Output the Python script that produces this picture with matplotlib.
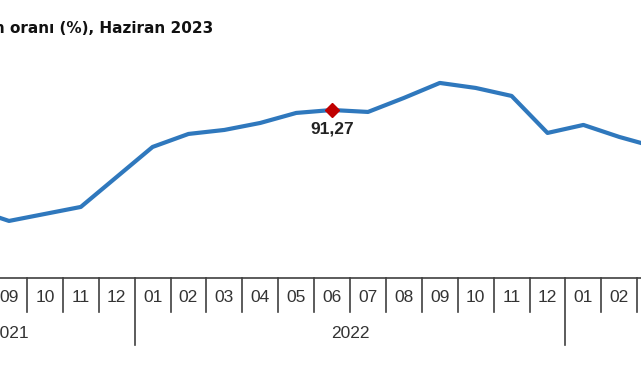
import matplotlib.pyplot as plt
import matplotlib.transforms as mtransforms

# monthly values, June 2021 .. June 2023 (annual change, %)
months = ["06", "07", "08", "09", "10", "11", "12",
          "01", "02", "03", "04", "05", "06", "07", "08", "09", "10", "11", "12",
          "01", "02", "03", "04", "05", "06"]
values = [48.8, 46.3, 41.8, 35.8, 39.3, 42.8, 57.8,
          72.8, 79.3, 81.3, 84.8, 89.8, 91.27, 90.3, 97.3, 104.8, 102.3, 98.3, 79.8,
          83.8, 77.8, 72.8, 70.0, 67.5, 65.0]
years = ["2021", "2022", "2023"]
year_start = [0, 7, 19]
year_len = [7, 12, 6]
highlight = 12
highlight_label = "91,27"
title = "Hizmet üretici fiyat endeksi yıllık değişim oranı (%), Haziran 2023"

W, H = 641, 380
fig = plt.figure(figsize=(W / 100, H / 100), dpi=100)
axis_y = 278
ax = fig.add_axes([0, (H - axis_y) / H, 1, axis_y / H])

px = 35.9  # pixels per month
x0 = 3 - 9 / px
ax.set_xlim(x0, x0 + W / px)
ax.set_ylim(91.27 - (axis_y - 110) * 0.5, 91.27 + 110 * 0.5)

xs = list(range(len(values)))
ax.plot(xs, values, color="#2F78BD", lw=3, solid_capstyle="round", zorder=2)
ax.plot([highlight], [values[highlight]], marker="D", ms=7.5, color="#C00000",
        mec="#C00000", zorder=3)
ax.annotate(highlight_label, (highlight, values[highlight]), xytext=(0, -14),
            textcoords="offset points", ha="center", va="center",
            fontsize=12.5, fontweight="bold", color="#222222",
            family="Liberation Sans")

for s in ["top", "left", "right"]:
    ax.spines[s].set_visible(False)
ax.spines["bottom"].set_color("#404040")
ax.spines["bottom"].set_linewidth(1.2)
ax.set_xticks([])
ax.set_yticks([])

tr = mtransforms.blended_transform_factory(ax.transData, ax.transAxes)
sep_short = -34 / axis_y
sep_long = -67 / axis_y
year_edges = set(year_start)
for i in range(len(months) + 1):
    y_end = sep_long if i in year_edges or i == len(months) else sep_short
    ax.plot([i - 0.5, i - 0.5], [0, y_end], color="#404040", lw=1.2,
            transform=tr, clip_on=False)
for i, m in enumerate(months):
    ax.text(i, -20 / axis_y, m, transform=tr, ha="center", va="center",
            fontsize=12.5, color="#333333", family="Liberation Sans")
for y, s, n in zip(years, year_start, year_len):
    ax.text(s + (n - 1) / 2, -55 / axis_y, y, transform=tr, ha="center",
            va="center", fontsize=12.5, color="#333333", family="Liberation Sans")

fig.text(213 / W, 1 - 28 / H, title, ha="right", va="center", fontsize=11,
         fontweight="bold", color="#111111", family="DejaVu Sans")

fig.savefig("out.png", dpi=100)
